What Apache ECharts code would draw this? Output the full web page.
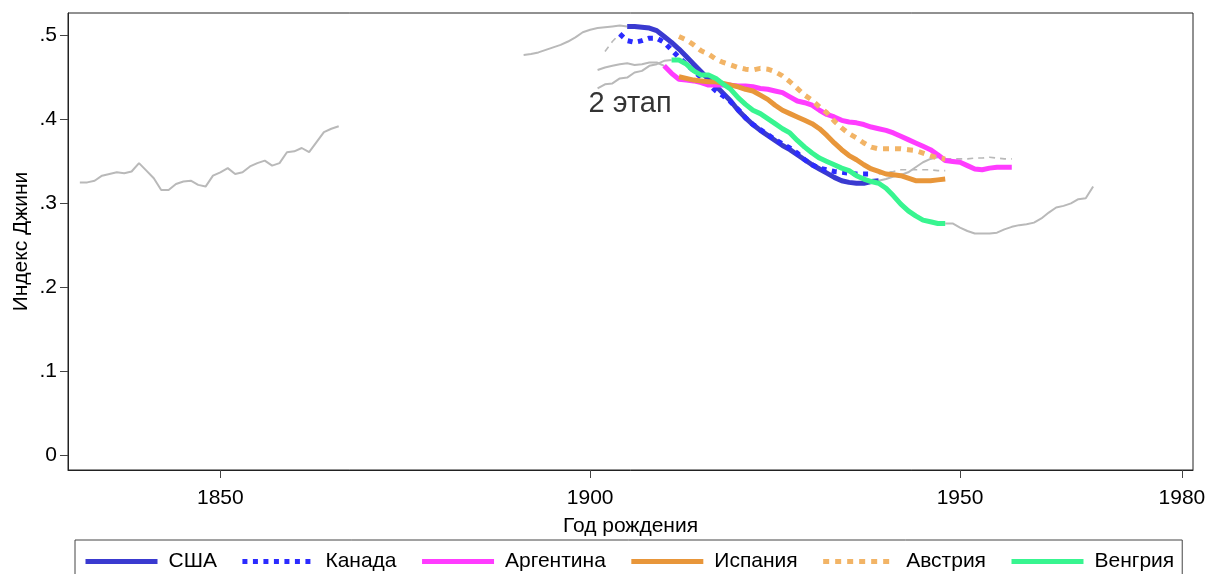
<!DOCTYPE html>
<html>
<head>
<meta charset="utf-8">
<script src="https://cdn.jsdelivr.net/npm/echarts@6/dist/echarts.min.js"></script>
<style>html,body{margin:0;padding:0;background:#fff}#c{width:1205px;height:574px}</style>
</head>
<body>
<div id="c"></div>
<script>
// ---- data ----
const xTicks = [1850, 1900, 1950, 1980];
const yTicks = [0, 0.1, 0.2, 0.3, 0.4, 0.5];
const seriesNames = ['США', 'Канада', 'Аргентина', 'Испания', 'Австрия', 'Венгрия'];

const usaStart = 1905;
const usa = [.511,.511,.510,.509,.506,.499,.492,.484,.475,.466,.457,.448,.440,.431,.422,.411,.402,.394,.387,.381,.375,.369,.364,.358,.352,.346,.341,.336,.331,.327,.325,.324,.324,.326,.327];
const canadaStart = 1904;
const canada = [.502,.494,.492,.494,.497,.497,.492,.483,.474,.466,.458,.450,.442,.434,.428,.421,.412,.402,.394,.388,.382,.376,.371,.366,.360,.352,.346,.342,.340,.338,.337,.336,.335,.335,.335];
const argentinaStart = 1910;
const argentina = [.464,.455,.448,.447,.446,.444,.441,.441,.441,.441,.440,.440,.439,.437,.436,.434,.432,.427,.422,.420,.417,.411,.406,.403,.399,.397,.396,.394,.391,.389,.387,.384,.380,.376,.372,.368,.364,.358,.351,.350,.349,.345,.341,.340,.342,.343,.343,.343];
const spainStart = 1912;
const spain = [.451,.449,.447,.446,.445,.445,.443,.441,.439,.436,.434,.429,.424,.417,.411,.407,.403,.399,.395,.389,.381,.372,.364,.357,.352,.346,.341,.338,.335,.334,.333,.330,.327,.327,.327,.328,.329];
const austriaStart = 1912;
const austria = [.499,.495,.489,.482,.478,.472,.468,.465,.462,.460,.459,.461,.460,.457,.452,.445,.437,.429,.423,.415,.408,.398,.390,.383,.378,.372,.367,.365,.365,.365,.365,.364,.363,.360,.357,.354,.353];
const hungaryStart = 1911;
const hungary = [.471,.471,.466,.458,.453,.453,.449,.442,.436,.426,.418,.411,.407,.401,.395,.389,.384,.375,.367,.360,.354,.350,.346,.342,.339,.333,.329,.326,.324,.318,.309,.299,.291,.285,.280,.278,.276,.276];

// grey (other stages)
const grey1Start = 1831;
const grey1 = [.325,.325,.327,.333,.335,.337,.336,.338,.348,.339,.330,.316,.316,.323,.326,.327,.322,.320,.333,.337,.342,.335,.337,.344,.348,.351,.345,.348,.361,.362,.366,.361,.373,.385,.389,.392];
const grey2Start = 1891;
const grey2 = [.477,.478,.480,.483,.486,.489,.493,.498,.504,.507,.509,.510,.511,.512,.511];
const grey3Start = 1901;
const grey3 = [.459,.462,.464,.466,.467,.465,.466,.468,.468,.464];
const grey4Start = 1901;
const grey4 = [.437,.442,.443,.449,.450,.456,.458,.464,.466,.470,.471];
const grey5Start = 1939;
const grey5 = [.327,.329,.332,.334,.337,.343,.349,.353,.355];
const grey6Start = 1948;
const grey6 = [.276,.276,.271,.267,.264,.264,.264,.265,.269,.272,.274,.275,.277,.282,.289,.295,.297,.300,.305,.306,.320];
const greyDash1Start = 1902;
const greyDash1 = [.481,.493,.502];
const greyDash2Start = 1939;
const greyDash2 = [.335,.337,.338,.340,.340,.340,.340,.340,.339,.339];
const greyDash3Start = 1948;
const greyDash3 = [.353,.353,.353,.353,.354,.354,.355,.354,.353,.353];

const annotationText = '2 этап';
const annotationPos = [1905.4, 0.419];

// ---- build ----
function pairs(start, vals) { return vals.map((v, i) => [start + i, v]); }
const FONT = 'Liberation Sans, Arial, sans-serif';
const GREY = '#b9b9b9';

function greyLine(start, vals, dashed) {
  return {
    type: 'line', data: pairs(start, vals), symbol: 'none', silent: true,
    lineStyle: { color: GREY, width: dashed ? 1.6 : 2, type: dashed ? [6, 5] : 'solid' },
    z: 1
  };
}
function colLine(name, start, vals, color, dash) {
  return {
    name, type: 'line', data: pairs(start, vals), symbol: 'none',
    lineStyle: { color, width: 5, type: dash || 'solid', cap: 'butt' },
    itemStyle: { color },
    z: 3
  };
}

const series = [
  greyLine(grey1Start, grey1), greyLine(grey2Start, grey2), greyLine(grey3Start, grey3),
  greyLine(grey4Start, grey4), greyLine(grey5Start, grey5), greyLine(grey6Start, grey6),
  greyLine(greyDash1Start, greyDash1, true), greyLine(greyDash2Start, greyDash2, true),
  greyLine(greyDash3Start, greyDash3, true),
  colLine(seriesNames[0], usaStart, usa, '#3a3ad0'),
  colLine(seriesNames[1], canadaStart, canada, '#2b2bff', [5, 5.5]),
  colLine(seriesNames[2], argentinaStart, argentina, '#ff3cff'),
  colLine(seriesNames[3], spainStart, spain, '#e8963a'),
  colLine(seriesNames[4], austriaStart, austria, '#f2b466', [6, 6]),
  colLine(seriesNames[5], hungaryStart, hungary, '#38f590'),
  {
    type: 'scatter', data: [annotationPos], symbolSize: 0, silent: true, z: 5,
    label: { show: true, position: 'inside', formatter: annotationText, color: '#000',
             fontFamily: FONT, fontSize: 29 }
  }
];

const chart = echarts.init(document.getElementById('c'), null, { renderer: 'canvas' });
chart.setOption({
  animation: false,
  backgroundColor: '#fff',
  grid: { left: 68, right: 12, top: 13, bottom: 104, show: true, borderColor: '#222', borderWidth: 1,
          containLabel: false, outerBoundsMode: 'none' },
  xAxis: {
    type: 'value', min: 1829.4, max: 1981.5,
    name: 'Год рождения', nameLocation: 'middle', nameGap: 46,
    nameTextStyle: { fontFamily: FONT, fontSize: 21, color: '#000' },
    axisLine: { show: true, onZero: false, lineStyle: { color: '#222', width: 1 } },
    axisTick: { show: true, length: 8, customValues: xTicks, lineStyle: { color: '#444' } },
    axisLabel: { customValues: xTicks, margin: 18, fontFamily: FONT, fontSize: 21, color: '#000',
                 formatter: v => String(Math.round(v)) },
    splitLine: { show: false }
  },
  yAxis: {
    type: 'value', min: -0.018, max: 0.527,
    name: 'Индекс Джини', nameLocation: 'middle', nameGap: 36, nameRotate: 90, nameMoveOverlap: false,
    nameTextStyle: { fontFamily: FONT, fontSize: 21, color: '#000' },
    axisLine: { show: true, onZero: false, lineStyle: { color: '#222', width: 1 } },
    axisTick: { show: true, length: 8, customValues: yTicks, lineStyle: { color: '#444' } },
    axisLabel: {
      customValues: yTicks, margin: 11, fontFamily: FONT, fontSize: 21, color: '#000',
      formatter: v => (Math.abs(v) < 1e-9 ? '0' : ('.' + Math.round(v * 10)))
    },
    splitLine: { show: false }
  },
  legend: {
    data: seriesNames, left: 75, top: 540,
    padding: [11, 8, 12, 8], itemGap: 23, itemWidth: 72, itemHeight: 5,
    borderColor: '#444', borderWidth: 1,
    itemStyle: { opacity: 0 },
    lineStyle: { width: 5 },
    textStyle: { fontFamily: FONT, fontSize: 21, color: '#000', padding: [0, 0, 0, 6] }
  },
  series
});
</script>
</body>
</html>
